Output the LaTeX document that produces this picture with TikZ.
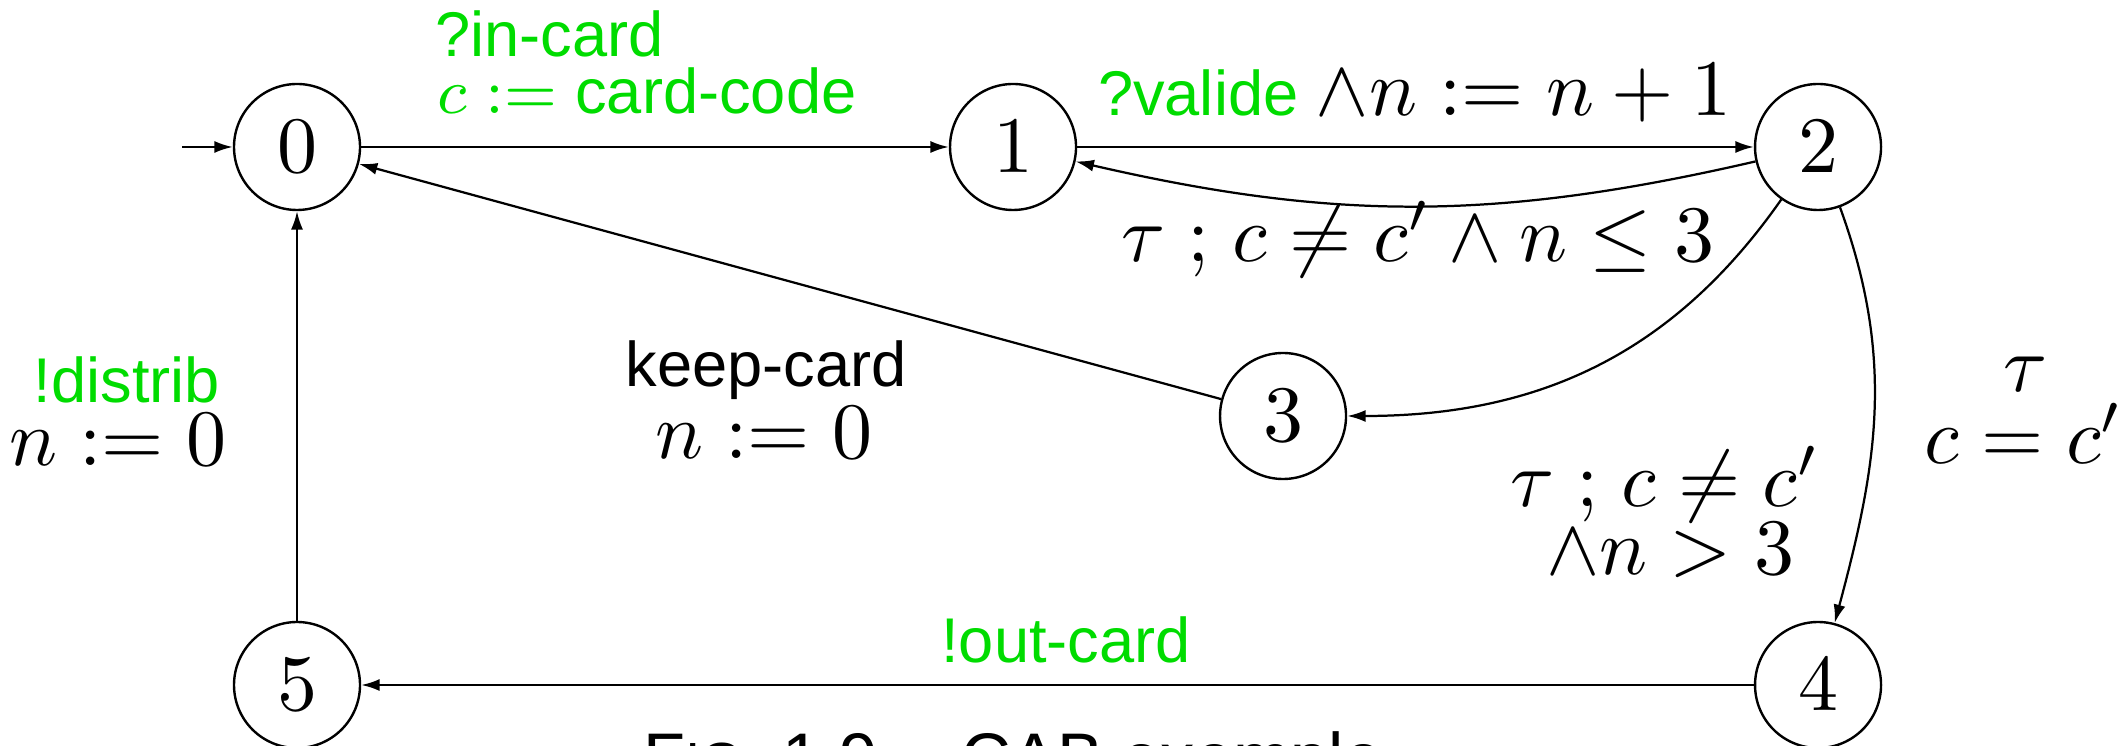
\documentclass[tikz,border=0pt]{standalone}
\usepackage[no-math]{fontspec}
\newfontfamily\arial{Liberation Sans}
\usetikzlibrary{arrows.meta}
\definecolor{lblgreen}{RGB}{0,220,0}
\begin{document}
\begin{tikzpicture}[x=0.125pt,y=-0.125pt,
  state/.style={circle,draw,line width=0.3pt,minimum size=15.75pt,inner sep=0pt,font=\fontsize{10.3}{12}\selectfont},
  edge/.style={line width=0.28pt,-{Latex[length=2.3pt,width=1.5pt]}},
  txt/.style={anchor=base,inner sep=0pt,font=\arial\fontsize{7.9}{9.5}\selectfont},
  mth/.style={anchor=base,inner sep=0pt,font=\fontsize{10.3}{12}\selectfont},
  grn/.style={text=lblgreen}]
\useasboundingbox (0,0) rectangle (2121,746);
\clip (0,0) rectangle (2121,746);
% states
\node[state] (n0) at (297,147) {$0$};
\node[state] (n1) at (1013,147) {$1$};
\node[state] (n2) at (1818,147) {$2$};
\node[state] (n3) at (1283,416) {$3$};
\node[state] (n4) at (1818,685) {$4$};
\node[state] (n5) at (297,685) {$5$};
\coordinate (init) at (182,147);
% edges
\draw[edge] (init) -- (n0);
\draw[edge] (n0) -- (n1);
\draw[edge] (n1) -- (n2);
\draw[edge] (n2) to[bend left=13] (n1);
\draw[edge] (n2) to[out=-125,in=0] (n3);
\draw[edge] (n3) -- (n0);
\draw[edge] (n2) to[out=-70,in=75] (n4);
\draw[edge] (n4) -- (n5);
\draw[edge] (n5) -- (n0);
% labels
\node[txt,grn,anchor=base west] (l1) at (434,57) {?in-card};
\node[txt,grn,anchor=base west] (l2) at (436,114) {$c :=$ card-code};
\node[txt] (l3) at (1415,116) {\textcolor{lblgreen}{?valide} \fontsize{10.3}{12}\selectfont$\wedge n := n+1$};
\node[mth] (l4) at (1418,262) {$\tau\mathrel{;}c \neq c' \wedge n \leq 3$};
\node[txt] (l5) at (766,387) {keep-card};
\node[mth] (l6) at (764,459) {$n := 0$};
\node[txt,grn] (l7) at (127,403) {!distrib};
\node[mth] (l8) at (118,465) {$n := 0$};
\node[mth] (l9) at (2025,392) {$\tau$};
\node[mth] (l10) at (2024,464) {$c = c'$};
\node[mth] (l11) at (1665,507) {$\tau\mathrel{;}c \neq c'$};
\node[mth] (l12) at (1670,574) {$\wedge n > 3$};
\node[txt,grn] (l13) at (1066,662) {!out-card};
\node[txt,font=\arial\fontsize{8.6}{10}\selectfont] (cap) at (1013,781) {F{\fontsize{6.9}{8}\selectfont IG}. 1.9 -- CAB exemple};
\end{tikzpicture}
\end{document}
